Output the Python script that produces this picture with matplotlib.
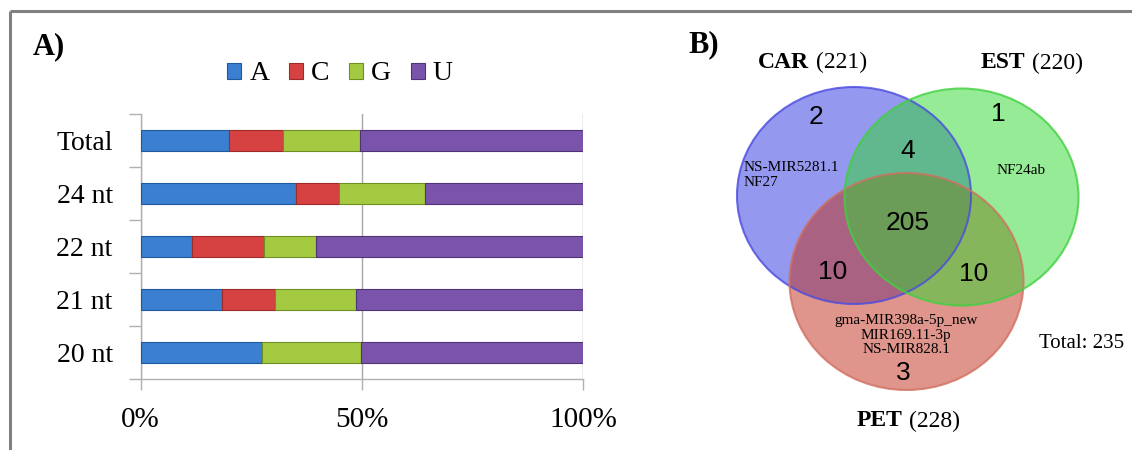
import numpy as np
import matplotlib.pyplot as plt
from matplotlib.patches import Ellipse

# --- panel A data: nucleotide composition (%) ---
categorias = ['Total', '24 nt', '22 nt', '21 nt', '20 nt']
nt_A = [20.0, 35.1, 11.7, 18.4, 27.5]
nt_C = [12.2, 9.8, 16.1, 12.1, 0.0]
nt_G = [17.4, 19.5, 11.8, 18.1, 22.3]
nt_U = [50.4, 35.6, 60.4, 51.4, 50.2]
bases = ['A', 'C', 'G', 'U']
colores_bar = ['#3a7fd0', '#d64242', '#a4ca42', '#7a54aa']
bordes_bar = ['#1f5a9e', '#9e2a2a', '#6f8f22', '#4e3378']
xticks_pct = [0, 50, 100]

# --- panel B data: Venn counts ---
grupos = ['CAR', 'EST', 'PET']
tamanos = [221, 220, 228]
solo = [2, 1, 3]              # CAR only, EST only, PET only
pares = [4, 10, 10]           # CAR&EST, CAR&PET, EST&PET
todos = 205
total = 235
nombres_car = ['NS-MIR5281.1', 'NF27']
nombres_est = ['NF24ab']
nombres_pet = ['gma-MIR398a-5p_new', 'MIR169.11-3p', 'NS-MIR828.1']

SERIF = 'Liberation Serif'
SANS = 'Liberation Sans'

fig = plt.figure(figsize=(11.32, 4.5), dpi=100)

# overlay in pixel coordinates for frame, labels and Venn
ov = fig.add_axes([0, 0, 1, 1])
ov.set_xlim(0, 1132)
ov.set_ylim(450, 0)
ov.axis('off')
ov.plot([10, 1132], [11, 11], color='#808080', lw=2.2, solid_capstyle='butt')
ov.plot([10, 10], [11, 450], color='#808080', lw=2.2, solid_capstyle='butt')

ov.text(33, 47, 'A)', family=SERIF, fontsize=22, fontweight='bold', va='center', ha='left')
ov.text(688, 45, 'B)', family=SERIF, fontsize=22, fontweight='bold', va='center', ha='left')

# --- Panel A: stacked bars ---
ax = fig.add_axes([140.5 / 1132, 71 / 450, 442.5 / 1132, 265 / 450])
y = np.arange(len(categorias))
izq = np.zeros(len(categorias))
for vals, nombre, col, bc in zip([nt_A, nt_C, nt_G, nt_U], bases, colores_bar, bordes_bar):
    vals = np.array(vals)
    ax.barh(y, vals, left=izq, height=0.40, color=col, edgecolor=bc, linewidth=0.8,
            label=nombre, zorder=3)
    izq += vals

ax.set_xlim(0, 100)
ax.set_ylim(len(categorias) - 0.5, -0.5)
ax.set_xticks(xticks_pct)
ax.set_xticklabels([f'{v}%' for v in xticks_pct], family=SERIF, fontsize=21)
ax.set_yticks(y)
ax.set_yticklabels(categorias, family=SERIF, fontsize=20)
ax.set_yticks(np.arange(-0.5, len(categorias)), minor=True)
ax.tick_params(axis='y', which='major', length=0, pad=20)
ax.tick_params(axis='y', which='minor', length=9, color='#b0b0b0', width=1)
ax.tick_params(axis='x', length=8, color='#b0b0b0', width=1, pad=12)
ax.grid(axis='x', color='#a8a8a8', lw=1, zorder=0)
for s in ['top', 'right']:
    ax.spines[s].set_visible(False)
for s in ['left', 'bottom']:
    ax.spines[s].set_color('#b0b0b0')
    ax.spines[s].set_linewidth(1)

h, l = ax.get_legend_handles_labels()
fig.legend(h, l, loc='center', bbox_to_anchor=(340 / 1132, 1 - 74 / 450), ncol=4,
           frameon=False, prop={'family': SERIF, 'size': 20}, handlelength=0.5,
           handleheight=0.5, handletextpad=0.3, columnspacing=0.7)

# --- Panel B: Venn diagram ---
centros = [(854, 195.5), (961.5, 197), (906.5, 281.5)]
ancho, alto = 234, 217
rellenos = {'CAR': '#2b33e0', 'EST': '#2fd82f', 'PET': '#c12d19'}
bordes = {'CAR': '#4a4ae0', 'EST': '#40d040', 'PET': '#d07060'}
# draw order: CAR, PET, EST
for g in ['CAR', 'PET', 'EST']:
    c = centros[grupos.index(g)]
    ov.add_patch(Ellipse(c, ancho, alto, facecolor=rellenos[g], alpha=0.5, edgecolor='none'))
for g in ['CAR', 'PET', 'EST']:
    c = centros[grupos.index(g)]
    ov.add_patch(Ellipse(c, ancho, alto, facecolor='none', edgecolor=bordes[g], lw=1.5, alpha=0.8))

num_kw = dict(family=SANS, fontsize=19, ha='center', va='center')
ov.text(816, 117, str(solo[0]), **num_kw)
ov.text(998, 114, str(solo[1]), **num_kw)
ov.text(903, 373, str(solo[2]), **num_kw)
ov.text(908, 151, str(pares[0]), **num_kw)
ov.text(833, 272, str(pares[1]), **num_kw)
ov.text(974, 274, str(pares[2]), **num_kw)
ov.text(908, 223, str(todos), **num_kw)

small = dict(family=SERIF, fontsize=11, va='center', linespacing=1.15)
ov.text(744, 175, '\n'.join(nombres_car), ha='left', **small)
ov.text(1021, 171, '\n'.join(nombres_est), ha='center', **small)
ov.text(906, 335, '\n'.join(nombres_pet), ha='center', multialignment='center', **small)

ov.text(1039, 343, f'Total: {total}', family=SERIF, fontsize=15, ha='left', va='center')

etiquetas_pos = [(809, 62), (1025, 63), (902, 421)]
for g, n, (px, py) in zip(grupos, tamanos, etiquetas_pos):
    ov.text(px, py, g, family=SERIF, fontsize=17, fontweight='bold', ha='right', va='center')
    ov.text(px + 7, py, f'({n})', family=SERIF, fontsize=17, ha='left', va='center')

fig.savefig('out.png', dpi=100)
